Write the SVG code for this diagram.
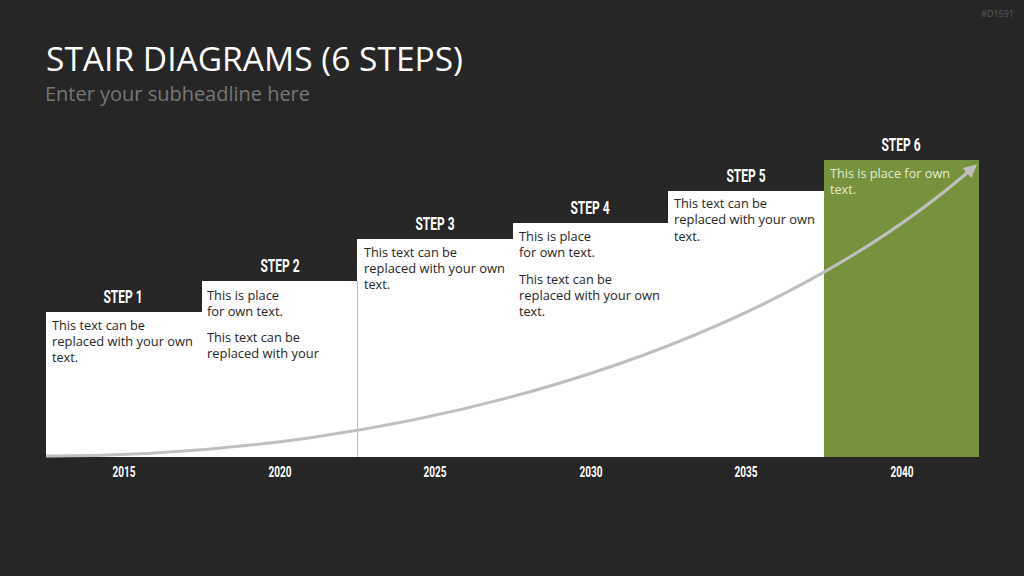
<svg xmlns="http://www.w3.org/2000/svg" width="1024" height="576" viewBox="0 0 1024 576">
<defs>
<style>
.bg{fill:#262626}
.box{fill:#ffffff}
.green{fill:#76923c}
.title{font-family:"Open Sans","Noto Sans",sans-serif;font-size:32px;fill:#ffffff}
.sub{font-family:"Open Sans","Noto Sans",sans-serif;font-size:20px;fill:#767676}
.id{font-family:"Open Sans","Noto Sans",sans-serif;font-size:9px;fill:#5a5a5a}
.step{font-family:Roboto,"Liberation Sans",sans-serif;font-weight:bold;font-size:18px;fill:#ffffff;text-anchor:middle}
.year{font-family:Roboto,"Liberation Sans",sans-serif;font-weight:bold;font-size:14px;fill:#ffffff;text-anchor:middle}
.body{font-family:"Open Sans","Noto Sans",sans-serif;font-size:13px;fill:#262626}
.bodyl{font-family:"Open Sans","Noto Sans",sans-serif;font-size:13px;fill:#e4ebd6}
</style>
<marker id="arr" viewBox="0 0 10 10" refX="8" refY="5" markerWidth="4.5" markerHeight="4.5" orient="auto" markerUnits="strokeWidth">
<path d="M0,0 L10,5 L0,10 z" fill="#bfbfbf"/>
</marker>
</defs>
<rect class="bg" x="0" y="0" width="1024" height="576"/>
<text class="id" x="1014" y="17" text-anchor="end">#D1591</text>
<text class="title" x="46" y="71" textLength="417" lengthAdjust="spacingAndGlyphs">STAIR DIAGRAMS (6 STEPS)</text>
<text class="sub" x="45" y="101" textLength="265" lengthAdjust="spacingAndGlyphs">Enter your subheadline here</text>

<g id="step1">
<rect class="box" x="46" y="312" width="156" height="145"/>
<text class="step" x="123" y="303" textLength="39" lengthAdjust="spacingAndGlyphs">STEP 1</text>
<text class="body" x="52" y="330" textLength="93" lengthAdjust="spacingAndGlyphs">This text can be</text>
<text class="body" x="52" y="346" textLength="141" lengthAdjust="spacingAndGlyphs">replaced with your own</text>
<text class="body" x="52" y="362" textLength="26" lengthAdjust="spacingAndGlyphs">text.</text>
<text class="year" x="124" y="477" textLength="23" lengthAdjust="spacingAndGlyphs">2015</text>
</g>
<g id="step2">
<rect class="box" x="202" y="281" width="156" height="176"/>
<text class="step" x="280" y="272" textLength="39" lengthAdjust="spacingAndGlyphs">STEP 2</text>
<text class="body" x="207" y="300" textLength="72" lengthAdjust="spacingAndGlyphs">This is place</text>
<text class="body" x="207" y="316" textLength="76" lengthAdjust="spacingAndGlyphs">for own text.</text>
<text class="body" x="207" y="342" textLength="93" lengthAdjust="spacingAndGlyphs">This text can be</text>
<text class="body" x="207" y="358" textLength="112" lengthAdjust="spacingAndGlyphs">replaced with your</text>
<text class="year" x="280" y="477" textLength="23" lengthAdjust="spacingAndGlyphs">2020</text>
</g>
<g id="step3">
<rect class="box" x="357" y="239" width="156" height="218"/>
<text class="step" x="435" y="230" textLength="39" lengthAdjust="spacingAndGlyphs">STEP 3</text>
<text class="body" x="364" y="257" textLength="93" lengthAdjust="spacingAndGlyphs">This text can be</text>
<text class="body" x="364" y="273" textLength="141" lengthAdjust="spacingAndGlyphs">replaced with your own</text>
<text class="body" x="364" y="289" textLength="26" lengthAdjust="spacingAndGlyphs">text.</text>
<text class="year" x="435" y="477" textLength="23" lengthAdjust="spacingAndGlyphs">2025</text>
</g>
<g id="step4">
<rect class="box" x="513" y="223" width="156" height="234"/>
<text class="step" x="590" y="214" textLength="39" lengthAdjust="spacingAndGlyphs">STEP 4</text>
<text class="body" x="519" y="241" textLength="72" lengthAdjust="spacingAndGlyphs">This is place</text>
<text class="body" x="519" y="257" textLength="76" lengthAdjust="spacingAndGlyphs">for own text.</text>
<text class="body" x="519" y="284" textLength="93" lengthAdjust="spacingAndGlyphs">This text can be</text>
<text class="body" x="519" y="300" textLength="141" lengthAdjust="spacingAndGlyphs">replaced with your own</text>
<text class="body" x="519" y="316" textLength="26" lengthAdjust="spacingAndGlyphs">text.</text>
<text class="year" x="591" y="477" textLength="23" lengthAdjust="spacingAndGlyphs">2030</text>
</g>
<g id="step5">
<rect class="box" x="668" y="191" width="156" height="266"/>
<text class="step" x="746" y="182" textLength="39" lengthAdjust="spacingAndGlyphs">STEP 5</text>
<text class="body" x="674" y="208" textLength="93" lengthAdjust="spacingAndGlyphs">This text can be</text>
<text class="body" x="674" y="224" textLength="141" lengthAdjust="spacingAndGlyphs">replaced with your own</text>
<text class="body" x="674" y="241" textLength="26" lengthAdjust="spacingAndGlyphs">text.</text>
<text class="year" x="746" y="477" textLength="23" lengthAdjust="spacingAndGlyphs">2035</text>
</g>
<g id="step6">
<rect class="green" x="824" y="160" width="155" height="297"/>
<text class="step" x="901" y="151" textLength="39" lengthAdjust="spacingAndGlyphs">STEP 6</text>
<text class="bodyl" x="830" y="178" textLength="120" lengthAdjust="spacingAndGlyphs">This is place for own</text>
<text class="bodyl" x="830" y="194" textLength="26" lengthAdjust="spacingAndGlyphs">text.</text>
<text class="year" x="902" y="477" textLength="23" lengthAdjust="spacingAndGlyphs">2040</text>
</g>

<g id="connectors">
<line x1="357.5" y1="281" x2="357.5" y2="457" stroke="#bfbfbf" stroke-width="1"/>
<path d="M46,456 C400,457 760,355 975,166" fill="none" stroke="#bfbfbf" stroke-width="3" marker-end="url(#arr)"/>
</g>
</svg>
